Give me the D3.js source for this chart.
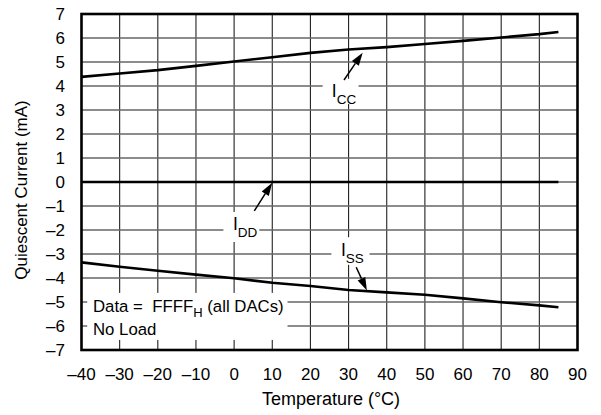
<!DOCTYPE html>
<html><head><meta charset="utf-8">
<script src="https://cdn.jsdelivr.net/npm/d3@7"></script>
<style>body{margin:0;background:#fff}svg{display:block}text{font-family:"Liberation Sans",Arial,Helvetica,sans-serif;fill:#000;white-space:pre}</style>
</head><body><svg id="c" width="601" height="415"></svg>
<script>
// ---- data ----
const temps = [-40,-30,-20,-10,0,10,20,30,40,50,60,70,80,85];
const iccValues = [4.38,4.52,4.66,4.84,5.02,5.2,5.38,5.52,5.62,5.75,5.88,6.02,6.16,6.25];
const iddValues = [0,0,0,0,0,0,0,0,0,0,0,0,0,0];
const issValues = [-3.35,-3.53,-3.7,-3.86,-4.01,-4.2,-4.33,-4.5,-4.6,-4.7,-4.85,-5.01,-5.14,-5.22];
const xTicks = [-40,-30,-20,-10,0,10,20,30,40,50,60,70,80,90];
const yTicks = [-7,-6,-5,-4,-3,-2,-1,0,1,2,3,4,5,6,7];
// annotations in data units: label anchor, mask box, arrow start/end
const labels = [
  {main:"I", sub:"CC", x:25.6, y:3.53, box:[23.2,32.6,3.25,4.3], from:[28.8,4.25], to:[33.7,5.39]},
  {main:"I", sub:"DD", x:-0.3, y:-2.0, box:[-2.8,6.6,-2.5,-1.25], from:[5.3,-1.2], to:[10.0,-0.03]},
  {main:"I", sub:"SS", x:28.0, y:-3.1, box:[25.5,35.5,-3.45,-2.3], from:[32.0,-3.55], to:[34.8,-4.52]}
];

const svg = d3.select("#c");
const x = d3.scaleLinear().domain([-40,90]).range([81.5,577.5]);
const y = d3.scaleLinear().domain([-7,7]).range([350,14]);
const minus = s => String(s).replace("-", "\u2013");

// grid
const g = svg.append("g");
g.selectAll("line.v").data(xTicks.slice(1,-1)).join("line")
  .attr("x1",d=>x(d)).attr("x2",d=>x(d)).attr("y1",y(7)).attr("y2",y(-7))
  .attr("stroke","#222").attr("stroke-width",1.1);
g.selectAll("line.h").data(yTicks.slice(1,-1)).join("line")
  .attr("x1",x(-40)).attr("x2",x(90)).attr("y1",d=>y(d)).attr("y2",d=>y(d))
  .attr("stroke","#666").attr("stroke-width",1.6);

// mask boxes for labels
labels.forEach(l=>{
  svg.append("rect").attr("x",x(l.box[0])).attr("y",y(l.box[3]))
    .attr("width",x(l.box[1])-x(l.box[0])).attr("height",y(l.box[2])-y(l.box[3]))
    .attr("fill","#fff");
});
// data note box
svg.append("rect").attr("x",x(-38.5)).attr("y",y(-4.62)).attr("width",x(14)-x(-38.5)).attr("height",y(-6.58)-y(-4.62)).attr("fill","#fff");

// lines
const line = d3.line().x((d,i)=>x(temps[i])).y(d=>y(d));
[iccValues,iddValues,issValues].forEach(s=>{
  svg.append("path").attr("d",line(s)).attr("fill","none").attr("stroke","#000").attr("stroke-width",2.6);
});

// frame
svg.append("rect").attr("x",x(-40)).attr("y",y(7)).attr("width",x(90)-x(-40)).attr("height",y(-7)-y(7))
  .attr("fill","none").attr("stroke","#000").attr("stroke-width",2.6);

// arrows
labels.forEach(l=>{
  const x1=x(l.from[0]), y1=y(l.from[1]), x2=x(l.to[0]), y2=y(l.to[1]);
  const ang=Math.atan2(y2-y1,x2-x1), hl=13, hw=4.2;
  const bx=x2-hl*Math.cos(ang), by=y2-hl*Math.sin(ang);
  svg.append("line").attr("x1",x1).attr("y1",y1).attr("x2",bx).attr("y2",by).attr("stroke","#000").attr("stroke-width",1.5);
  const px=-Math.sin(ang), py=Math.cos(ang);
  svg.append("path").attr("d",`M${x2},${y2}L${bx+px*hw},${by+py*hw}L${bx-px*hw},${by-py*hw}Z`).attr("fill","#000");
  const t=svg.append("text").attr("x",x(l.x)).attr("y",y(l.y)).attr("font-size",17.5);
  t.append("tspan").text(l.main);
  t.append("tspan").attr("dy",6.5).attr("font-size",13.5).text(l.sub);
});

// data note text
const t1=svg.append("text").attr("x",x(-37)).attr("y",y(-5.4)).attr("font-size",16.8);
t1.append("tspan").text("Data =  FFFF");
t1.append("tspan").attr("dy",5).attr("font-size",13).text("H");
t1.append("tspan").attr("dy",-5).text(" (all DACs)");
svg.append("text").attr("x",x(-37)).attr("y",y(-6.38)).attr("font-size",16.8).text("No Load");

// tick labels
svg.selectAll("text.xt").data(xTicks).join("text").attr("class","xt")
  .attr("x",d=>x(d)).attr("y",380).attr("text-anchor","middle").attr("font-size",17).text(minus);
svg.selectAll("text.yt").data(yTicks).join("text").attr("class","yt")
  .attr("x",65).attr("y",d=>y(d)+6).attr("text-anchor","end").attr("font-size",17).text(minus);

// titles
svg.append("text").attr("x",331).attr("y",405).attr("text-anchor","middle").attr("font-size",18).text("Temperature (\u00B0C)");
svg.append("text").attr("transform",`translate(27,190) rotate(-90)`).attr("text-anchor","middle").attr("font-size",17).text("Quiescent Current (mA)");
</script></body></html>
